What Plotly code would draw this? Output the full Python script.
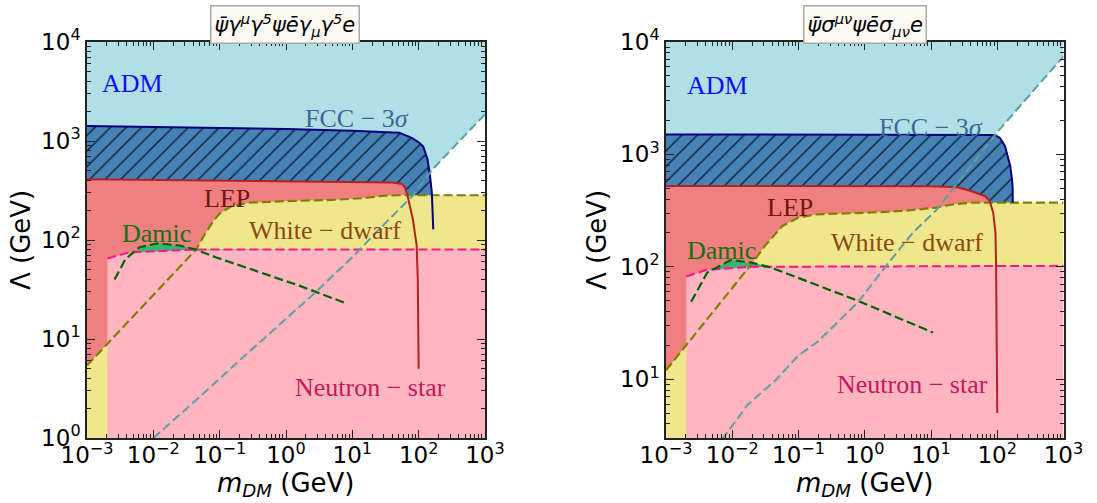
import numpy as np
import plotly.graph_objects as go

W, H = 1097, 503
X_MIN, X_MAX = 1e-3, 1e3

# ---------------- Panel A: axial-vector operator ----------------
teal_m_A = [1e-2, 0.05, 0.19, 1.0, 2.8, 10, 23, 81, 162, 400, 1000]
teal_L_A = [1.0, 2.6, 5.9, 15.9, 29.7, 67, 120, 280, 517, 980, 1860]

fcc_m_A = [1e-3, 1e-2, 0.1, 1, 10, 51, 80, 102, 117, 136, 150, 158, 166]
fcc_L_A = [1416, 1390, 1360, 1320, 1270, 1213, 1070, 962, 880, 653, 420, 300, 128]

lep_m_A = [1e-3, 1e-2, 0.1, 1, 10, 40, 55, 62, 68, 75, 82, 88, 93, 97, 99, 100]
lep_L_A = [411, 405, 400, 395, 386, 380, 370, 340, 280, 210, 160, 115, 90, 40, 15, 5]

wd_m_A = [1e-3, 1e-2, 0.044, 0.06, 0.08, 0.1, 0.155, 0.28, 1, 5, 15, 30, 50, 1e3]
wd_L_A = [5.4, 27.7, 80, 115, 155, 185, 222, 238, 247, 254, 265, 280, 283, 283]

ns_m_A = [2.03e-3, 4.3e-3, 0.044, 1e3]
ns_L_A = [65, 75, 80, 80]

damic_m_A = [2.6e-3, 3.8e-3, 6.1e-3, 0.0115, 0.0245, 0.044, 0.087, 1.58, 8.5]
damic_L_A = [40, 64, 84, 92.5, 88, 80, 67, 34.6, 22.6]

# ---------------- Panel T: tensor operator ----------------
teal_m_T = [7e-3, 0.017, 0.045, 0.1, 0.19, 0.78, 2.3, 5.3, 12, 103, 1000]
teal_L_T = [2.9, 5.9, 9.8, 16.3, 21.3, 48, 109, 200, 320, 1612, 7460]

fcc_m_T = [1e-3, 1e-2, 0.1, 1, 10, 80, 92, 110, 131, 148, 157, 167, 171, 171]
fcc_L_T = [1507, 1507, 1507, 1507, 1507, 1507, 1490, 1400, 1186, 903, 788, 600, 500, 372]

lep_m_T = [1e-3, 1e-2, 0.1, 1, 10, 25, 40, 65, 77, 87, 94, 96, 98, 100]
lep_L_T = [524, 524, 524, 524, 520, 510, 473, 427, 385, 302, 202, 100, 30, 5]

wd_m_T = [1e-3, 2e-3, 0.0206, 0.031, 0.057, 0.1, 0.186, 1.1, 3.7, 12, 22, 40, 1e3]
wd_L_T = [12, 20, 110, 153, 231, 274, 293, 303, 314, 336, 360, 372, 373]

ns_m_T = [2.02e-3, 4.1e-3, 0.0195, 1e3]
ns_L_T = [82, 94, 100, 102]

damic_m_T = [2.4e-3, 4.2e-3, 9.6e-3, 0.0195, 0.035, 0.05, 0.78, 10.7]
damic_L_T = [49, 89, 115, 109, 100, 93, 50, 26]

# region labels: (text, mass, Lambda, colour)
labels_A = [
    ("ADM", 4.9e-3, 3770, "#1010ee"),
    ("FCC − 3<i>σ</i>", 11.7, 1700, "#3a6a98"),
    ("LEP", 0.129, 265, "#701414"),
    ("White − dwarf", 3.9, 126, "#8b4a13"),
    ("Damic", 0.0113, 117, "#107010"),
    ("Neutron − star", 18.5, 3.2, "#c8185a"),
]
labels_T = [
    ("ADM", 5.9e-3, 4060, "#1010ee"),
    ("FCC − 3<i>σ</i>", 10, 1750, "#3a6a98"),
    ("LEP", 0.0745, 340, "#701414"),
    ("White − dwarf", 4.3, 163, "#8b4a13"),
    ("Damic", 6.8e-3, 141, "#107010"),
    ("Neutron − star", 5.3, 8.9, "#c8185a"),
]

titles = [
    "<i>ψ̄γ<sup>μ</sup>γ<sup>5</sup>ψēγ<sub>μ</sub>γ<sup>5</sup>e</i>",
    "<i>ψ̄σ<sup>μν</sup>ψēσ<sub>μν</sub>e</i>",
]

C_ADM, C_FCC, C_LEP, C_WD, C_NS, C_DAMIC = (
    "#B0E0E6", "#4682B4", "#F08080", "#F0E68C", "#FFB6C1", "#3CB371")
L_TEAL, L_FCC, L_LEP, L_WD, L_NS, L_DAMIC = (
    "#5F9EA0", "#000080", "#B22222", "#808000", "#FF1493", "#006400")

DASH = "9px,4px"

fig = go.Figure()


def add_fill(xs, ys, color, xa, ya, pattern=None):
    kw = dict(x=xs, y=ys, fill="toself", fillcolor=color, mode="lines",
              line=dict(width=0), xaxis=xa, yaxis=ya, hoverinfo="skip",
              showlegend=False)
    if pattern is not None:
        kw["fillpattern"] = pattern
    fig.add_trace(go.Scatter(**kw))


def add_line(xs, ys, color, xa, ya, dash=None, width=2):
    fig.add_trace(go.Scatter(
        x=xs, y=ys, mode="lines",
        line=dict(color=color, width=width, dash=dash),
        xaxis=xa, yaxis=ya, hoverinfo="skip", showlegend=False))


def panel(xa, ya, y_bot, teal_m, teal_L, fcc_m, fcc_L, lep_m, lep_L,
          wd_m, wd_L, ns_m, ns_L, dm_m, dm_L):
    y_top = 1e4
    # ADM: everything above the cyan dashed curve
    add_fill([X_MIN] + teal_m + [X_MAX, X_MIN],
             [teal_L[0]] + teal_L + [y_top, y_top], C_ADM, xa, ya)
    # FCC hatched region
    add_fill(fcc_m + [fcc_m[-1], X_MIN], fcc_L + [y_bot, y_bot], C_FCC, xa, ya,
             pattern=dict(shape="/", bgcolor=C_FCC, fgcolor="#0c1a33",
                          size=11, solidity=0.12, fillmode="replace"))
    # LEP
    add_fill(lep_m + [lep_m[-1], X_MIN], lep_L + [y_bot, y_bot], C_LEP, xa, ya)
    # White dwarf
    add_fill(wd_m + [X_MAX, X_MIN], wd_L + [y_bot, y_bot], C_WD, xa, ya)
    # Neutron star
    add_fill([ns_m[0]] + ns_m + [X_MAX], [y_bot] + ns_L + [y_bot], C_NS, xa, ya)
    # Damic: area between the Damic curve and the neutron-star curve
    lg = np.linspace(np.log10(dm_m[0]), np.log10(dm_m[-1]), 300)
    d_up = np.interp(lg, np.log10(dm_m), np.log10(dm_L))
    n_lo = np.interp(lg, np.log10(ns_m), np.log10(ns_L))
    upper = np.maximum(d_up, n_lo)
    xs = np.concatenate([10 ** lg, 10 ** lg[::-1]])
    ys = np.concatenate([10 ** upper, 10 ** n_lo[::-1]])
    add_fill(list(xs), list(ys), C_DAMIC, xa, ya)

    # boundary curves
    add_line(wd_m, wd_L, L_WD, xa, ya, dash=DASH, width=2.2)
    add_line(ns_m, ns_L, L_NS, xa, ya, dash=DASH)
    add_line(dm_m, dm_L, L_DAMIC, xa, ya, dash=DASH, width=2.2)
    add_line(lep_m, lep_L, L_LEP, xa, ya)
    add_line(fcc_m, fcc_L, L_FCC, xa, ya)
    add_line(teal_m, teal_L, L_TEAL, xa, ya, dash=DASH)


y_bot_A, y_bot_T = 1.0, 3.0
panel("x", "y", 0.5, teal_m_A, teal_L_A, fcc_m_A, fcc_L_A, lep_m_A, lep_L_A,
      wd_m_A, wd_L_A, ns_m_A, ns_L_A, damic_m_A, damic_L_A)
panel("x2", "y2", 0.5, teal_m_T, teal_L_T, fcc_m_T, fcc_L_T, lep_m_T, lep_L_T,
      wd_m_T, wd_L_T, ns_m_T, ns_L_T, damic_m_T, damic_L_T)

# ---------------- axes ----------------
def sup(n):
    s = str(n).replace("-", "−")
    return f"10<sup>{s}</sup>"

x_major = [10.0 ** k for k in range(-3, 4)]
x_minor = [j * 10.0 ** k for k in range(-3, 3) for j in range(2, 10)]

AX_COL = "#222222"
tickfont = dict(family="DejaVu Sans", size=23, color="black")


def xaxis(domain, anchor):
    return dict(type="log", range=[-3, 3], domain=domain, anchor=anchor,
                automargin=False, ticklabelstandoff=-4,
                showgrid=False, zeroline=False, showline=True,
                linecolor=AX_COL, linewidth=1.5, mirror="allticks",
                ticks="inside", ticklen=8, tickwidth=1.3, tickcolor=AX_COL,
                tickvals=x_major, ticktext=[sup(k) for k in range(-3, 4)],
                tickfont=tickfont,
                minor=dict(ticks="inside", ticklen=4, tickwidth=1,
                           tickcolor=AX_COL, tickvals=x_minor, showgrid=False))


def yaxis(domain, anchor, lo, k0):
    vals = [10.0 ** k for k in range(k0, 5)]
    minor = [j * 10.0 ** k for k in range(0, 4) for j in range(2, 10)
             if j * 10.0 ** k >= lo]
    return dict(type="log", range=[np.log10(lo), 4], domain=domain,
                anchor=anchor, automargin=False,
                showgrid=False, zeroline=False, showline=True,
                linecolor=AX_COL, linewidth=1.5, mirror="allticks",
                ticks="inside", ticklen=8, tickwidth=1.3, tickcolor=AX_COL,
                tickvals=vals, ticktext=[sup(k) for k in range(k0, 5)],
                tickfont=tickfont,
                minor=dict(ticks="inside", ticklen=4, tickwidth=1,
                           tickcolor=AX_COL, tickvals=minor, showgrid=False))


x_dom_A = [87 / W, 485 / W]
x_dom_T = [666 / W, 1063.5 / W]
y_dom = [1 - 438 / H, 1 - 42 / H]

annotations = []
for labels, xr, yr in ((labels_A, "x", "y"), (labels_T, "x2", "y2")):
    for text, m, lam, col in labels:
        annotations.append(dict(
            text=text, x=np.log10(m), y=np.log10(lam), xref=xr, yref=yr,
            xanchor="center", yanchor="middle",
            showarrow=False, font=dict(family="Liberation Serif", size=26,
                                       color=col)))

for title, cx in zip(titles, (285, 865)):
    annotations.append(dict(
        text=title, x=cx / W, y=1 - 25 / H, xref="paper", yref="paper",
        xanchor="center", yanchor="middle",
        showarrow=False, bgcolor="#fdf9f3", bordercolor="#aaaaaa",
        borderwidth=1.5, borderpad=3,
        font=dict(family="DejaVu Sans", size=21, color="black")))

for cx in (286, 865):
    annotations.append(dict(
        text="<i>m</i><sub><i>DM</i></sub> (GeV)", x=cx / W, y=0,
        xref="paper", yref="paper", xanchor="center", yanchor="bottom",
        showarrow=False,
        font=dict(family="DejaVu Sans", size=26, color="black")))
for cx in (21, 597):
    annotations.append(dict(
        text="Λ (GeV)", x=cx / W, y=1 - 240 / H, xref="paper", yref="paper",
        xanchor="center", yanchor="middle",
        showarrow=False, textangle=-90,
        font=dict(family="DejaVu Sans", size=26, color="black")))

fig.update_layout(
    width=W, height=H, margin=dict(l=0, r=0, t=0, b=0),
    paper_bgcolor="white", plot_bgcolor="white",
    xaxis=xaxis(x_dom_A, "y"), yaxis=yaxis(y_dom, "x", y_bot_A, 0),
    xaxis2=xaxis(x_dom_T, "y2"), yaxis2=yaxis(y_dom, "x2", y_bot_T, 1),
    annotations=annotations,
)

fig.write_html("out.html")
